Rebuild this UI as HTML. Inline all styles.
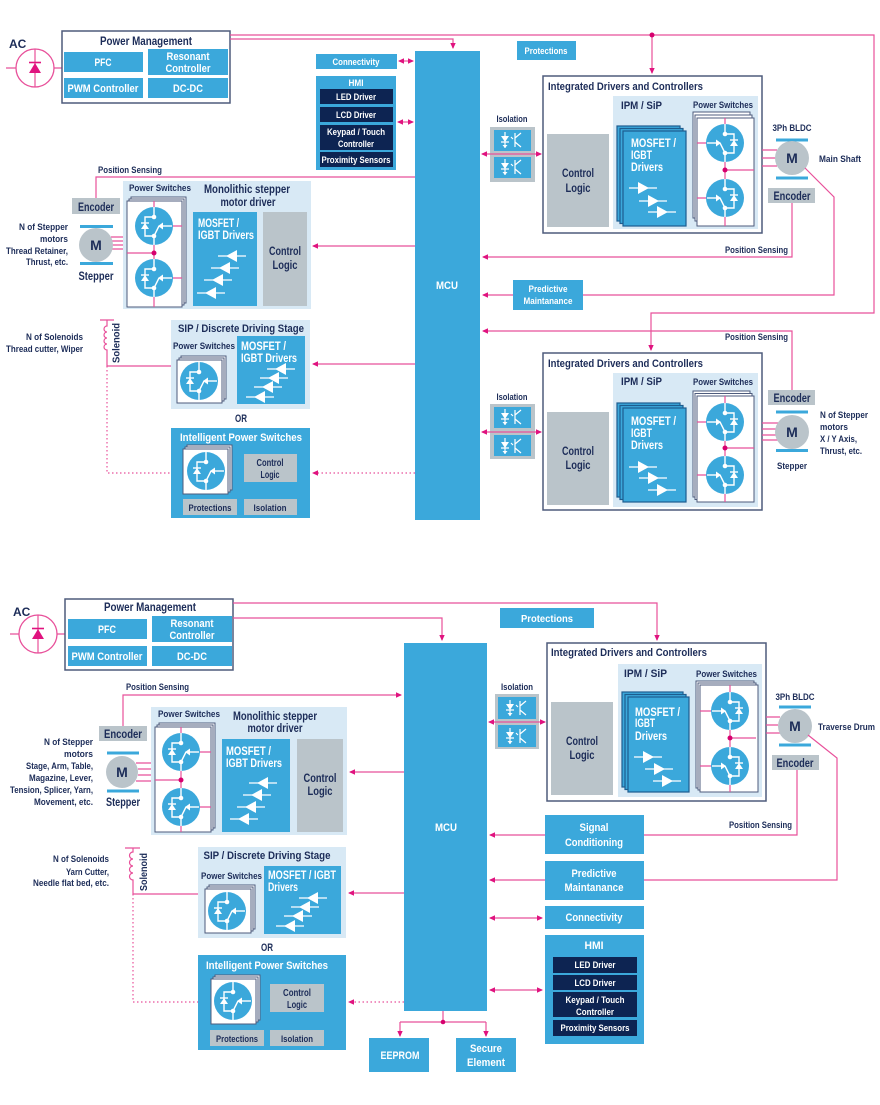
<!DOCTYPE html>
<html><head><meta charset="utf-8">
<style>
html,body{margin:0;padding:0;background:#fff;width:880px;height:1105px;overflow:hidden}
svg{display:block}
text{font-family:"Liberation Sans Narrow","Liberation Sans",Arial,sans-serif;font-weight:bold}
.n{fill:#1c2c58}
.w{fill:#fff}
.c{text-anchor:middle}
.e{text-anchor:end}
.ln{stroke:#e8509a;stroke-width:1.2;fill:none}
.dt{stroke:#e8509a;stroke-width:1.2;fill:none;stroke-dasharray:1.5 2.5}
.b{fill:#3ba8db}
.l{fill:#d8e9f5}
.g{fill:#bac4ca}
.d{fill:#0d2452}
.mf{fill:#3ba8db;stroke:#1d5d8f;stroke-width:1.2}
.cd{fill:#fff;stroke:#4e5b7c;stroke-width:1}
.bx{fill:#fff;stroke:#4e5b7c;stroke-width:1.5}
</style></head><body>
<svg width="880" height="1105" viewBox="0 0 880 1105" xmlns="http://www.w3.org/2000/svg">
<defs>
<marker id="a" viewBox="0 0 6 6" refX="5" refY="3" markerWidth="6" markerHeight="6" orient="auto-start-reverse" markerUnits="userSpaceOnUse"><path d="M0,0.3L6,3L0,5.7Z" fill="#e0137f"/></marker>
<g id="swR">
 <circle r="19" fill="#3ba8db"/>
 <g stroke="#fff" stroke-width="1.4" fill="none">
  <path d="M0,-19V-9H9V10H0V19"/>
  <path d="M0,10L-5,0"/>
  <path d="M-18,0H-9"/>
  <path d="M5,-3H13"/>
 </g>
 <path d="M5,3H13L9,-3Z" fill="#fff"/>
 <path d="M-9,-3.5L-4,0L-9,3.5Z" fill="#fff"/>
 <circle cx="0" cy="-9" r="2.3" fill="#fff"/>
 <circle cx="0" cy="10" r="2.3" fill="#fff"/>
</g>
<g id="bufR">
 <path d="M-14,0H14" stroke="#fff" stroke-width="1.2"/>
 <path d="M-5,-6L6,0L-5,6Z" fill="#fff"/>
</g>
<g id="opto">
 <path d="M-11,-4H-3L-7,2Z" fill="#fff"/>
 <g stroke="#fff" stroke-width="1.2" fill="none">
  <path d="M-11,2H-3M-7,-8V8M3,-7V7M3,-2L9,-7M3,2L9,7M-1,-3L1,-1"/>
 </g>
 <path d="M-7,8l-2.5,-3h5z" fill="#fff"/>
</g>
</defs>

<!-- ================= TOP DIAGRAM ================= -->
<!-- AC -->
<text class="n" x="9" y="48" font-size="12">AC</text>
<circle cx="35" cy="68" r="19" fill="none" stroke="#e8509a" stroke-width="1.3"/>
<path class="ln" d="M6,68H16M54,68H62M35,49V87"/>
<path d="M29,73H41L35,63Z" fill="#e0137f"/><path d="M29,62.5H41" stroke="#e0137f" stroke-width="1.6"/>

<!-- Power management -->
<rect class="bx" x="62" y="31" width="168" height="72"/>
<text class="n c" x="146" y="45" font-size="11.5" textLength="92" lengthAdjust="spacingAndGlyphs">Power Management</text>
<rect class="b" x="64" y="52" width="79" height="20"/>
<text class="w c" x="103" y="66" font-size="11" textLength="17" lengthAdjust="spacingAndGlyphs">PFC</text>
<rect class="b" x="148" y="49" width="80" height="26"/>
<text class="w c" x="188" y="60" font-size="11" textLength="43" lengthAdjust="spacingAndGlyphs">Resonant</text>
<text class="w c" x="188" y="72" font-size="11" textLength="45" lengthAdjust="spacingAndGlyphs">Controller</text>
<rect class="b" x="64" y="78" width="79" height="20"/>
<text class="w c" x="103" y="92" font-size="11" textLength="71" lengthAdjust="spacingAndGlyphs">PWM Controller</text>
<rect class="b" x="148" y="78" width="80" height="20"/>
<text class="w c" x="188" y="92" font-size="11" textLength="30" lengthAdjust="spacingAndGlyphs">DC-DC</text>

<!-- top connectors -->
<path class="ln" d="M230,35H874V313H651V350" marker-end="url(#a)"/>
<path class="ln" d="M652,35V73" marker-end="url(#a)"/>
<circle cx="652" cy="35" r="2.5" fill="#d6006e"/>
<path class="ln" d="M230,39H453V48" marker-end="url(#a)"/>

<!-- Connectivity / HMI -->
<rect class="b" x="316" y="54" width="81" height="15"/>
<text class="w c" x="356" y="65" font-size="9.5" textLength="47" lengthAdjust="spacingAndGlyphs">Connectivity</text>
<path class="ln" d="M399,61H413" marker-start="url(#a)" marker-end="url(#a)"/>
<rect class="b" x="316" y="76" width="80" height="94"/>
<text class="w c" x="356" y="86" font-size="9.5" textLength="15" lengthAdjust="spacingAndGlyphs">HMI</text>
<rect class="d" x="320" y="89" width="73" height="15"/>
<text class="w c" x="356" y="100" font-size="9" textLength="40" lengthAdjust="spacingAndGlyphs">LED Driver</text>
<rect class="d" x="320" y="107" width="73" height="15"/>
<text class="w c" x="356" y="118" font-size="9" textLength="40" lengthAdjust="spacingAndGlyphs">LCD Driver</text>
<rect class="d" x="320" y="125" width="73" height="25"/>
<text class="w c" x="356" y="135" font-size="9" textLength="58" lengthAdjust="spacingAndGlyphs">Keypad / Touch</text>
<text class="w c" x="356" y="147" font-size="9" textLength="36" lengthAdjust="spacingAndGlyphs">Controller</text>
<rect class="d" x="320" y="152" width="73" height="15"/>
<text class="w c" x="356" y="163" font-size="9" textLength="69" lengthAdjust="spacingAndGlyphs">Proximity Sensors</text>
<path class="ln" d="M398,122H413" marker-start="url(#a)" marker-end="url(#a)"/>

<!-- MCU -->
<rect class="b" x="415" y="51" width="65" height="469"/>
<text class="w c" x="447" y="289" font-size="11" textLength="22" lengthAdjust="spacingAndGlyphs">MCU</text>

<!-- Protections -->
<rect class="b" x="517" y="41" width="59" height="19"/>
<text class="w c" x="546" y="54" font-size="9.5" textLength="43" lengthAdjust="spacingAndGlyphs">Protections</text>

<!-- Integrated 1 -->
<rect class="bx" x="543" y="76" width="219" height="157"/>
<text class="n" x="548" y="90" font-size="11" textLength="155" lengthAdjust="spacingAndGlyphs">Integrated Drivers and Controllers</text>
<rect class="g" x="547" y="134" width="62" height="93"/>
<text class="n c" x="578" y="177" font-size="12" textLength="32" lengthAdjust="spacingAndGlyphs">Control</text>
<text class="n c" x="578" y="192" font-size="12" textLength="25" lengthAdjust="spacingAndGlyphs">Logic</text>
<rect class="l" x="613" y="96" width="145" height="133"/>
<text class="n" x="621" y="109" font-size="11" textLength="41" lengthAdjust="spacingAndGlyphs">IPM / SiP</text>
<text class="n" x="693" y="108" font-size="9.5" textLength="60" lengthAdjust="spacingAndGlyphs">Power Switches</text>
<rect class="mf" x="617" y="126" width="63" height="95"/>
<rect class="mf" x="620" y="128.5" width="63" height="95"/>
<rect class="mf" x="623" y="131" width="63" height="95"/>
<text class="w" x="631" y="147" font-size="12" textLength="45" lengthAdjust="spacingAndGlyphs">MOSFET /</text>
<text class="w" x="631" y="159" font-size="12" textLength="21" lengthAdjust="spacingAndGlyphs">IGBT</text>
<text class="w" x="631" y="171" font-size="12" textLength="32" lengthAdjust="spacingAndGlyphs">Drivers</text>
<use href="#bufR" x="643" y="188"/><use href="#bufR" x="653" y="201"/><use href="#bufR" x="662" y="212"/>
<rect class="cd" x="693" y="112" width="57" height="106"/>
<rect class="cd" x="695" y="115" width="57" height="106"/>
<rect class="cd" x="697" y="118" width="57" height="108"/>
<path class="ln" d="M725,118V226M697,143H707M697,198H707M725,170H754"/>
<use href="#swR" x="725" y="143"/><use href="#swR" x="725" y="198"/>
<circle cx="725" cy="170" r="2.5" fill="#d6006e"/>
<!-- isolation 1 -->
<text class="n c" x="512" y="122" font-size="9" textLength="31" lengthAdjust="spacingAndGlyphs">Isolation</text>
<rect class="g" x="490" y="127" width="45" height="55"/>
<rect class="b" x="494" y="130" width="37" height="21"/>
<rect class="b" x="494" y="157" width="37" height="21"/>
<use href="#opto" x="512" y="140"/><use href="#opto" x="512" y="167"/>
<path class="ln" d="M482,154H541" marker-start="url(#a)" marker-end="url(#a)"/>
<!-- motor 1 -->
<path class="ln" d="M762,150H777M762,158H776M762,166H777"/>
<text class="n c" x="792" y="131" font-size="9.5" textLength="39" lengthAdjust="spacingAndGlyphs">3Ph BLDC</text>
<rect class="b" x="776" y="138.5" width="32" height="3"/>
<rect class="b" x="776" y="176.5" width="32" height="3"/>
<circle cx="792" cy="158" r="17" fill="#bac4ca"/>
<text class="n c" x="792" y="163" font-size="14">M</text>
<text class="n" x="819" y="162" font-size="9.5" textLength="42" lengthAdjust="spacingAndGlyphs">Main Shaft</text>
<rect class="g" x="768" y="188" width="47" height="15"/>
<text class="n c" x="792" y="200" font-size="11.5" textLength="37" lengthAdjust="spacingAndGlyphs">Encoder</text>
<path class="ln" d="M792,203V257H483" marker-end="url(#a)"/>
<text class="n e" x="788" y="253" font-size="9" textLength="63" lengthAdjust="spacingAndGlyphs">Position Sensing</text>
<path class="ln" d="M805,168L834,197V295H583"/>
<rect class="b" x="513" y="280" width="70" height="30"/>
<text class="w c" x="548" y="292" font-size="9" textLength="39" lengthAdjust="spacingAndGlyphs">Predictive</text>
<text class="w c" x="548" y="304" font-size="9" textLength="49" lengthAdjust="spacingAndGlyphs">Maintanance</text>
<path class="ln" d="M513,295H483" marker-end="url(#a)"/>

<!-- Integrated 2 -->
<path class="ln" d="M792,390V331H483" marker-end="url(#a)"/>
<text class="n e" x="788" y="340" font-size="9" textLength="63" lengthAdjust="spacingAndGlyphs">Position Sensing</text>
<rect class="bx" x="543" y="353" width="219" height="157"/>
<text class="n" x="548" y="367" font-size="11" textLength="155" lengthAdjust="spacingAndGlyphs">Integrated Drivers and Controllers</text>
<rect class="g" x="547" y="412" width="62" height="93"/>
<text class="n c" x="578" y="455" font-size="12" textLength="32" lengthAdjust="spacingAndGlyphs">Control</text>
<text class="n c" x="578" y="469" font-size="12" textLength="25" lengthAdjust="spacingAndGlyphs">Logic</text>
<rect class="l" x="613" y="373" width="145" height="134"/>
<text class="n" x="621" y="385" font-size="11" textLength="41" lengthAdjust="spacingAndGlyphs">IPM / SiP</text>
<text class="n" x="693" y="385" font-size="9.5" textLength="60" lengthAdjust="spacingAndGlyphs">Power Switches</text>
<rect class="mf" x="617" y="403" width="63" height="94"/>
<rect class="mf" x="620" y="405.5" width="63" height="94"/>
<rect class="mf" x="623" y="408" width="63" height="94"/>
<text class="w" x="631" y="425" font-size="12" textLength="45" lengthAdjust="spacingAndGlyphs">MOSFET /</text>
<text class="w" x="631" y="437" font-size="12" textLength="21" lengthAdjust="spacingAndGlyphs">IGBT</text>
<text class="w" x="631" y="449" font-size="12" textLength="32" lengthAdjust="spacingAndGlyphs">Drivers</text>
<use href="#bufR" x="643" y="467"/><use href="#bufR" x="653" y="478"/><use href="#bufR" x="662" y="490"/>
<rect class="cd" x="693" y="391" width="57" height="106"/>
<rect class="cd" x="695" y="393.5" width="57" height="106"/>
<rect class="cd" x="697" y="396" width="57" height="106"/>
<path class="ln" d="M725,396V502M697,422H707M697,475H707M725,448H754"/>
<use href="#swR" x="725" y="422"/><use href="#swR" x="725" y="475"/>
<circle cx="725" cy="448" r="2.5" fill="#d6006e"/>
<text class="n c" x="512" y="400" font-size="9" textLength="31" lengthAdjust="spacingAndGlyphs">Isolation</text>
<rect class="g" x="490" y="404" width="45" height="55"/>
<rect class="b" x="494" y="407" width="37" height="21"/>
<rect class="b" x="494" y="435" width="37" height="21"/>
<use href="#opto" x="512" y="417"/><use href="#opto" x="512" y="446"/>
<path class="ln" d="M482,432H541" marker-start="url(#a)" marker-end="url(#a)"/>
<path class="ln" d="M762,423H778M762,429H776M762,435H776M762,440H778"/>
<rect class="g" x="768" y="390" width="47" height="15"/>
<text class="n c" x="792" y="402" font-size="11.5" textLength="37" lengthAdjust="spacingAndGlyphs">Encoder</text>
<rect class="b" x="776" y="410.5" width="32" height="3"/>
<rect class="b" x="776" y="449" width="32" height="3"/>
<circle cx="792" cy="432" r="17" fill="#bac4ca"/>
<text class="n c" x="792" y="437" font-size="14">M</text>
<text class="n c" x="792" y="469" font-size="9.5" textLength="30" lengthAdjust="spacingAndGlyphs">Stepper</text>
<text class="n" x="820" y="418" font-size="9.5" textLength="48" lengthAdjust="spacingAndGlyphs">N of Stepper</text>
<text class="n" x="820" y="430" font-size="9.5" textLength="28" lengthAdjust="spacingAndGlyphs">motors</text>
<text class="n" x="820" y="442" font-size="9.5" textLength="37" lengthAdjust="spacingAndGlyphs">X / Y Axis,</text>
<text class="n" x="820" y="454" font-size="9.5" textLength="42" lengthAdjust="spacingAndGlyphs">Thrust, etc.</text>

<!-- Left top: stepper -->
<text class="n" x="98" y="173" font-size="9" textLength="64" lengthAdjust="spacingAndGlyphs">Position Sensing</text>
<path class="ln" d="M415,177H96V198"/>
<rect class="g" x="72" y="198" width="48" height="16"/>
<text class="n c" x="96" y="211" font-size="11.5" textLength="36" lengthAdjust="spacingAndGlyphs">Encoder</text>
<rect class="b" x="80" y="225" width="33" height="3"/>
<rect class="b" x="80" y="262" width="33" height="3"/>
<path class="ln" d="M111,237H127M112,241H127M112,245H127M111,249H127"/>
<circle cx="96" cy="245" r="17" fill="#bac4ca"/>
<text class="n c" x="96" y="250" font-size="14">M</text>
<text class="n c" x="96" y="280" font-size="11.5" textLength="35" lengthAdjust="spacingAndGlyphs">Stepper</text>
<text class="n e" x="68" y="230" font-size="9" textLength="49" lengthAdjust="spacingAndGlyphs">N of Stepper</text>
<text class="n e" x="68" y="242" font-size="9" textLength="28" lengthAdjust="spacingAndGlyphs">motors</text>
<text class="n e" x="68" y="254" font-size="9" textLength="62" lengthAdjust="spacingAndGlyphs">Thread Retainer,</text>
<text class="n e" x="68" y="265" font-size="9" textLength="42" lengthAdjust="spacingAndGlyphs">Thrust, etc.</text>
<rect class="l" x="123" y="181" width="188" height="128"/>
<text class="n" x="129" y="191" font-size="9.5" textLength="62" lengthAdjust="spacingAndGlyphs">Power Switches</text>
<rect class="cd" x="131" y="197" width="55" height="106"/>
<rect class="cd" x="129" y="199" width="55" height="106"/>
<rect class="cd" x="127" y="201" width="55" height="106"/>
<path class="ln" d="M154,201V307M173,226H182M173,278H182M127,253H154"/>
<use href="#swR" transform="translate(154,226) scale(-1,1)"/>
<use href="#swR" transform="translate(154,278) scale(-1,1)"/>
<circle cx="154" cy="253" r="2.5" fill="#d6006e"/>
<text class="n c" x="247" y="193" font-size="11.5" textLength="86" lengthAdjust="spacingAndGlyphs">Monolithic stepper</text>
<text class="n c" x="248" y="206" font-size="11.5" textLength="55" lengthAdjust="spacingAndGlyphs">motor driver</text>
<rect class="b" x="193" y="212" width="64" height="94"/>
<text class="w" x="198" y="227" font-size="11.5" textLength="41" lengthAdjust="spacingAndGlyphs">MOSFET /</text>
<text class="w" x="198" y="239" font-size="11.5" textLength="56" lengthAdjust="spacingAndGlyphs">IGBT Drivers</text>
<use href="#bufR" transform="translate(232,256) scale(-1,1)"/>
<use href="#bufR" transform="translate(225,268) scale(-1,1)"/>
<use href="#bufR" transform="translate(218,280) scale(-1,1)"/>
<use href="#bufR" transform="translate(211,293) scale(-1,1)"/>
<rect class="g" x="263" y="212" width="44" height="94"/>
<text class="n c" x="285" y="255" font-size="12" textLength="32" lengthAdjust="spacingAndGlyphs">Control</text>
<text class="n c" x="285" y="269" font-size="12" textLength="25" lengthAdjust="spacingAndGlyphs">Logic</text>
<path class="ln" d="M415,246H313" marker-end="url(#a)"/>

<!-- Solenoid top -->
<text class="n e" x="83" y="340" font-size="9" textLength="57" lengthAdjust="spacingAndGlyphs">N of Solenoids</text>
<text class="n e" x="83" y="352" font-size="9" textLength="77" lengthAdjust="spacingAndGlyphs">Thread cutter, Wiper</text>
<path class="ln" d="M100,320H114M107,320V326a3,3 0 1 0 0,6a3,3 0 1 0 0,6a3,3 0 1 0 0,6a3,3 0 1 0 0,6V366H171"/>
<path class="dt" d="M107,366V473H171"/>
<text class="n c" transform="translate(119.5,343) rotate(-90)" font-size="10" textLength="40" lengthAdjust="spacingAndGlyphs">Solenoid</text>
<rect class="l" x="171" y="320" width="139" height="89"/>
<text class="n c" x="241" y="332" font-size="11" textLength="126" lengthAdjust="spacingAndGlyphs">SIP / Discrete Driving Stage</text>
<text class="n" x="173" y="349" font-size="9.5" textLength="62" lengthAdjust="spacingAndGlyphs">Power Switches</text>
<rect class="cd" x="181" y="356" width="45" height="43"/>
<rect class="cd" x="179" y="358" width="45" height="43"/>
<rect class="cd" x="177" y="360" width="45" height="43"/>
<use href="#swR" transform="translate(199,381) scale(-1,1)"/>
<rect class="b" x="237" y="336" width="68" height="68"/>
<text class="w" x="241" y="350" font-size="11.5" textLength="45" lengthAdjust="spacingAndGlyphs">MOSFET /</text>
<text class="w" x="241" y="362" font-size="11.5" textLength="56" lengthAdjust="spacingAndGlyphs">IGBT Drivers</text>
<use href="#bufR" transform="translate(281,369) scale(-1,1)"/>
<use href="#bufR" transform="translate(274,378) scale(-1,1)"/>
<use href="#bufR" transform="translate(268,387) scale(-1,1)"/>
<use href="#bufR" transform="translate(260,397) scale(-1,1)"/>
<path class="ln" d="M415,364H313" marker-end="url(#a)"/>
<text class="n c" x="241" y="422" font-size="11" textLength="12" lengthAdjust="spacingAndGlyphs">OR</text>
<rect class="b" x="171" y="428" width="139" height="90"/>
<text class="w c" x="241" y="441" font-size="11" textLength="122" lengthAdjust="spacingAndGlyphs">Intelligent Power Switches</text>
<rect class="cd" x="187" y="445" width="45" height="45"/>
<rect class="cd" x="185" y="447" width="45" height="45"/>
<rect class="cd" x="183" y="449" width="45" height="45"/>
<use href="#swR" transform="translate(206,471) scale(-1,1)"/>
<rect class="g" x="244" y="454" width="53" height="28"/>
<text class="n c" x="270" y="466" font-size="10" textLength="27" lengthAdjust="spacingAndGlyphs">Control</text>
<text class="n c" x="270" y="478" font-size="10" textLength="19" lengthAdjust="spacingAndGlyphs">Logic</text>
<rect class="g" x="183" y="499" width="54" height="16"/>
<text class="n c" x="210" y="511" font-size="9.5" textLength="43" lengthAdjust="spacingAndGlyphs">Protections</text>
<rect class="g" x="244" y="499" width="53" height="16"/>
<text class="n c" x="270" y="511" font-size="9.5" textLength="33" lengthAdjust="spacingAndGlyphs">Isolation</text>
<path class="dt" d="M415,473H313" marker-end="url(#a)"/>

<!-- ================= BOTTOM DIAGRAM ================= -->
<text class="n" x="13" y="616" font-size="12">AC</text>
<circle cx="38" cy="634" r="19" fill="none" stroke="#e8509a" stroke-width="1.3"/>
<path class="ln" d="M10,634H19M57,634H65M38,615V653"/>
<path d="M32,639H44L38,629Z" fill="#e0137f"/><path d="M32,628.5H44" stroke="#e0137f" stroke-width="1.6"/>

<rect class="bx" x="65" y="599" width="168" height="71"/>
<text class="n c" x="150" y="611" font-size="11.5" textLength="92" lengthAdjust="spacingAndGlyphs">Power Management</text>
<rect class="b" x="68" y="619" width="79" height="20"/>
<text class="w c" x="107" y="633" font-size="11" textLength="18" lengthAdjust="spacingAndGlyphs">PFC</text>
<rect class="b" x="152" y="616" width="80" height="26"/>
<text class="w c" x="192" y="627" font-size="11" textLength="43" lengthAdjust="spacingAndGlyphs">Resonant</text>
<text class="w c" x="192" y="639" font-size="11" textLength="45" lengthAdjust="spacingAndGlyphs">Controller</text>
<rect class="b" x="68" y="646" width="79" height="20"/>
<text class="w c" x="107" y="660" font-size="11" textLength="71" lengthAdjust="spacingAndGlyphs">PWM Controller</text>
<rect class="b" x="152" y="646" width="80" height="20"/>
<text class="w c" x="192" y="660" font-size="11" textLength="30" lengthAdjust="spacingAndGlyphs">DC-DC</text>
<path class="ln" d="M233,603H657V640" marker-end="url(#a)"/>
<path class="ln" d="M233,618H442V640" marker-end="url(#a)"/>

<rect class="b" x="500" y="608" width="94" height="20"/>
<text class="w c" x="547" y="622" font-size="10.5" textLength="52" lengthAdjust="spacingAndGlyphs">Protections</text>

<rect class="b" x="404" y="643" width="83" height="368"/>
<text class="w c" x="446" y="831" font-size="11" textLength="22" lengthAdjust="spacingAndGlyphs">MCU</text>

<!-- Integrated bottom -->
<rect class="bx" x="547" y="643" width="219" height="158"/>
<text class="n" x="551" y="656" font-size="11" textLength="156" lengthAdjust="spacingAndGlyphs">Integrated Drivers and Controllers</text>
<rect class="g" x="551" y="702" width="62" height="93"/>
<text class="n c" x="582" y="745" font-size="12" textLength="32" lengthAdjust="spacingAndGlyphs">Control</text>
<text class="n c" x="582" y="759" font-size="12" textLength="25" lengthAdjust="spacingAndGlyphs">Logic</text>
<rect class="l" x="618" y="664" width="144" height="133"/>
<text class="n" x="624" y="677" font-size="11" textLength="43" lengthAdjust="spacingAndGlyphs">IPM / SiP</text>
<text class="n" x="696" y="677" font-size="9.5" textLength="61" lengthAdjust="spacingAndGlyphs">Power Switches</text>
<rect class="mf" x="622" y="692" width="61" height="95"/>
<rect class="mf" x="625" y="694.5" width="61" height="95"/>
<rect class="mf" x="628" y="697" width="61" height="95"/>
<text class="w" x="635" y="716" font-size="12" textLength="45" lengthAdjust="spacingAndGlyphs">MOSFET /</text>
<text class="w" x="635" y="727" font-size="12" textLength="20" lengthAdjust="spacingAndGlyphs">IGBT</text>
<text class="w" x="635" y="740" font-size="12" textLength="32" lengthAdjust="spacingAndGlyphs">Drivers</text>
<use href="#bufR" x="648" y="757"/><use href="#bufR" x="659" y="769"/><use href="#bufR" x="667" y="781"/>
<rect class="cd" x="696" y="681" width="58" height="107"/>
<rect class="cd" x="698" y="683" width="58" height="107"/>
<rect class="cd" x="700" y="685" width="58" height="107"/>
<path class="ln" d="M730,685V792M700,711H711M700,766H711M730,738H756"/>
<use href="#swR" x="730" y="711"/><use href="#swR" x="730" y="766"/>
<circle cx="730" cy="738" r="2.5" fill="#d6006e"/>
<text class="n c" x="517" y="690" font-size="9" textLength="32" lengthAdjust="spacingAndGlyphs">Isolation</text>
<rect class="g" x="495" y="694" width="44" height="55"/>
<rect class="b" x="498" y="697" width="38" height="22"/>
<rect class="b" x="498" y="725" width="38" height="22"/>
<use href="#opto" x="517" y="708"/><use href="#opto" x="517" y="736"/>
<path class="ln" d="M489,722H545" marker-start="url(#a)" marker-end="url(#a)"/>
<path class="ln" d="M766,717H780M766,725H778M766,733H780"/>
<text class="n c" x="795" y="700" font-size="9.5" textLength="39" lengthAdjust="spacingAndGlyphs">3Ph BLDC</text>
<rect class="b" x="779" y="705.5" width="32" height="3"/>
<rect class="b" x="779" y="743.5" width="32" height="3"/>
<circle cx="795" cy="726" r="17" fill="#bac4ca"/>
<text class="n c" x="795" y="731" font-size="14">M</text>
<text class="n" x="818" y="730" font-size="9.5" textLength="57" lengthAdjust="spacingAndGlyphs">Traverse Drum</text>
<rect class="g" x="772" y="755" width="47" height="15"/>
<text class="n c" x="795" y="767" font-size="11.5" textLength="37" lengthAdjust="spacingAndGlyphs">Encoder</text>
<path class="ln" d="M797,770V835H644"/>
<text class="n e" x="792" y="828" font-size="9" textLength="63" lengthAdjust="spacingAndGlyphs">Position Sensing</text>
<path class="ln" d="M808,735L837,758V880H644"/>

<rect class="b" x="545" y="815" width="99" height="39"/>
<text class="w c" x="594" y="831" font-size="11" textLength="29" lengthAdjust="spacingAndGlyphs">Signal</text>
<text class="w c" x="594" y="846" font-size="11" textLength="58" lengthAdjust="spacingAndGlyphs">Conditioning</text>
<path class="ln" d="M545,835H490" marker-end="url(#a)"/>
<rect class="b" x="545" y="861" width="99" height="39"/>
<text class="w c" x="594" y="877" font-size="11" textLength="45" lengthAdjust="spacingAndGlyphs">Predictive</text>
<text class="w c" x="594" y="891" font-size="11" textLength="59" lengthAdjust="spacingAndGlyphs">Maintanance</text>
<path class="ln" d="M545,880H490" marker-end="url(#a)"/>
<rect class="b" x="545" y="906" width="99" height="23"/>
<text class="w c" x="594" y="921" font-size="11" textLength="57" lengthAdjust="spacingAndGlyphs">Connectivity</text>
<path class="ln" d="M490,918H542" marker-start="url(#a)" marker-end="url(#a)"/>
<rect class="b" x="545" y="935" width="99" height="109"/>
<text class="w c" x="594" y="949" font-size="11" textLength="19" lengthAdjust="spacingAndGlyphs">HMI</text>
<rect class="d" x="553" y="957" width="84" height="16"/>
<text class="w c" x="595" y="968" font-size="9.5" textLength="41" lengthAdjust="spacingAndGlyphs">LED Driver</text>
<rect class="d" x="553" y="975" width="84" height="15"/>
<text class="w c" x="595" y="986" font-size="9.5" textLength="41" lengthAdjust="spacingAndGlyphs">LCD Driver</text>
<rect class="d" x="553" y="992" width="84" height="25"/>
<text class="w c" x="595" y="1003" font-size="9.5" textLength="59" lengthAdjust="spacingAndGlyphs">Keypad / Touch</text>
<text class="w c" x="595" y="1015" font-size="9.5" textLength="38" lengthAdjust="spacingAndGlyphs">Controller</text>
<rect class="d" x="553" y="1020" width="84" height="16"/>
<text class="w c" x="595" y="1031" font-size="9.5" textLength="69" lengthAdjust="spacingAndGlyphs">Proximity Sensors</text>
<path class="ln" d="M490,990H542" marker-start="url(#a)" marker-end="url(#a)"/>

<!-- EEPROM / Secure -->
<path class="ln" d="M443,1011V1022M400,1022H486"/>
<path class="ln" d="M400,1022V1036" marker-end="url(#a)"/>
<path class="ln" d="M486,1022V1036" marker-end="url(#a)"/>
<circle cx="443" cy="1022" r="2.3" fill="#d6006e"/>
<rect class="b" x="369" y="1038" width="60" height="34"/>
<text class="w c" x="400" y="1059" font-size="11" textLength="39" lengthAdjust="spacingAndGlyphs">EEPROM</text>
<rect class="b" x="456" y="1038" width="60" height="34"/>
<text class="w c" x="486" y="1052" font-size="11" textLength="32" lengthAdjust="spacingAndGlyphs">Secure</text>
<text class="w c" x="486" y="1066" font-size="11" textLength="38" lengthAdjust="spacingAndGlyphs">Element</text>

<!-- Bottom left stepper -->
<text class="n" x="126" y="690" font-size="9" textLength="63" lengthAdjust="spacingAndGlyphs">Position Sensing</text>
<path class="ln" d="M123,726V695H401" marker-end="url(#a)"/>
<rect class="g" x="99" y="726" width="48" height="15"/>
<text class="n c" x="123" y="738" font-size="11.5" textLength="38" lengthAdjust="spacingAndGlyphs">Encoder</text>
<rect class="b" x="107" y="751.5" width="32" height="3"/>
<rect class="b" x="107" y="789.5" width="32" height="3"/>
<path class="ln" d="M136,763H155M138,769H155M138,775H155M136,781H155"/>
<circle cx="122" cy="772" r="16" fill="#bac4ca"/>
<text class="n c" x="122" y="777" font-size="14">M</text>
<text class="n c" x="123" y="806" font-size="11.5" textLength="34" lengthAdjust="spacingAndGlyphs">Stepper</text>
<text class="n e" x="93" y="745" font-size="9" textLength="49" lengthAdjust="spacingAndGlyphs">N of Stepper</text>
<text class="n e" x="93" y="757" font-size="9" textLength="29" lengthAdjust="spacingAndGlyphs">motors</text>
<text class="n e" x="93" y="769" font-size="9" textLength="67" lengthAdjust="spacingAndGlyphs">Stage, Arm, Table,</text>
<text class="n e" x="93" y="781" font-size="9" textLength="64" lengthAdjust="spacingAndGlyphs">Magazine, Lever,</text>
<text class="n e" x="93" y="793" font-size="9" textLength="83" lengthAdjust="spacingAndGlyphs">Tension, Splicer, Yarn,</text>
<text class="n e" x="93" y="805" font-size="9" textLength="59" lengthAdjust="spacingAndGlyphs">Movement, etc.</text>
<rect class="l" x="151" y="707" width="196" height="128"/>
<text class="n" x="158" y="717" font-size="9.5" textLength="62" lengthAdjust="spacingAndGlyphs">Power Switches</text>
<rect class="cd" x="159" y="723" width="56" height="105"/>
<rect class="cd" x="157" y="725" width="56" height="105"/>
<rect class="cd" x="155" y="727" width="56" height="105"/>
<path class="ln" d="M181,727V832M200,752H211M200,807H211M155,780H181"/>
<use href="#swR" transform="translate(181,752) scale(-1,1)"/>
<use href="#swR" transform="translate(181,807) scale(-1,1)"/>
<circle cx="181" cy="780" r="2.5" fill="#d6006e"/>
<text class="n c" x="275" y="720" font-size="11.5" textLength="84" lengthAdjust="spacingAndGlyphs">Monolithic stepper</text>
<text class="n c" x="275" y="732" font-size="11.5" textLength="55" lengthAdjust="spacingAndGlyphs">motor driver</text>
<rect class="b" x="222" y="739" width="68" height="93"/>
<text class="w" x="226" y="755" font-size="11.5" textLength="45" lengthAdjust="spacingAndGlyphs">MOSFET /</text>
<text class="w" x="226" y="767" font-size="11.5" textLength="56" lengthAdjust="spacingAndGlyphs">IGBT Drivers</text>
<use href="#bufR" transform="translate(263,783) scale(-1,1)"/>
<use href="#bufR" transform="translate(257,795) scale(-1,1)"/>
<use href="#bufR" transform="translate(251,807) scale(-1,1)"/>
<use href="#bufR" transform="translate(244,819) scale(-1,1)"/>
<rect class="g" x="297" y="739" width="46" height="93"/>
<text class="n c" x="320" y="782" font-size="12" textLength="33" lengthAdjust="spacingAndGlyphs">Control</text>
<text class="n c" x="320" y="795" font-size="12" textLength="25" lengthAdjust="spacingAndGlyphs">Logic</text>
<path class="ln" d="M404,772H350" marker-end="url(#a)"/>

<!-- Solenoid bottom -->
<text class="n e" x="109" y="862" font-size="9" textLength="56" lengthAdjust="spacingAndGlyphs">N of Solenoids</text>
<text class="n e" x="109" y="875" font-size="9" textLength="43" lengthAdjust="spacingAndGlyphs">Yarn Cutter,</text>
<text class="n e" x="109" y="886" font-size="9" textLength="76" lengthAdjust="spacingAndGlyphs">Needle flat bed, etc.</text>
<path class="ln" d="M125,848H140M133,848V852a3.5,3.5 0 1 0 0,7a3.5,3.5 0 1 0 0,7a3.5,3.5 0 1 0 0,7a3.5,3.5 0 1 0 0,7V894H198"/>
<path class="dt" d="M133,894V1002H198"/>
<text class="n c" transform="translate(147,872) rotate(-90)" font-size="10" textLength="38" lengthAdjust="spacingAndGlyphs">Solenoid</text>
<rect class="l" x="198" y="847" width="148" height="91"/>
<text class="n c" x="267" y="859" font-size="11" textLength="127" lengthAdjust="spacingAndGlyphs">SIP / Discrete Driving Stage</text>
<text class="n" x="201" y="879" font-size="9.5" textLength="61" lengthAdjust="spacingAndGlyphs">Power Switches</text>
<rect class="cd" x="209" y="885" width="46" height="44"/>
<rect class="cd" x="207" y="887" width="46" height="44"/>
<rect class="cd" x="205" y="889" width="46" height="44"/>
<use href="#swR" transform="translate(227,911) scale(-1,1)"/>
<rect class="b" x="264" y="866" width="77" height="68"/>
<text class="w" x="268" y="879" font-size="11.5" textLength="68" lengthAdjust="spacingAndGlyphs">MOSFET / IGBT</text>
<text class="w" x="268" y="891" font-size="11.5" textLength="30" lengthAdjust="spacingAndGlyphs">Drivers</text>
<use href="#bufR" transform="translate(313,898) scale(-1,1)"/>
<use href="#bufR" transform="translate(305,907) scale(-1,1)"/>
<use href="#bufR" transform="translate(298,916) scale(-1,1)"/>
<use href="#bufR" transform="translate(290,926) scale(-1,1)"/>
<path class="ln" d="M404,893H349" marker-end="url(#a)"/>
<text class="n c" x="267" y="951" font-size="11" textLength="12" lengthAdjust="spacingAndGlyphs">OR</text>
<rect class="b" x="198" y="955" width="148" height="95"/>
<text class="w c" x="267" y="969" font-size="11" textLength="122" lengthAdjust="spacingAndGlyphs">Intelligent Power Switches</text>
<rect class="cd" x="215" y="975" width="45" height="45"/>
<rect class="cd" x="213" y="977" width="45" height="45"/>
<rect class="cd" x="211" y="979" width="45" height="45"/>
<use href="#swR" transform="translate(233,1001) scale(-1,1)"/>
<rect class="g" x="270" y="984" width="54" height="28"/>
<text class="n c" x="297" y="996" font-size="10" textLength="28" lengthAdjust="spacingAndGlyphs">Control</text>
<text class="n c" x="297" y="1008" font-size="10" textLength="20" lengthAdjust="spacingAndGlyphs">Logic</text>
<rect class="g" x="210" y="1030" width="54" height="16"/>
<text class="n c" x="237" y="1042" font-size="9.5" textLength="42" lengthAdjust="spacingAndGlyphs">Protections</text>
<rect class="g" x="270" y="1030" width="54" height="16"/>
<text class="n c" x="297" y="1042" font-size="9.5" textLength="32" lengthAdjust="spacingAndGlyphs">Isolation</text>
<path class="dt" d="M404,1002H349" marker-end="url(#a)"/>
</svg>
</body></html>
